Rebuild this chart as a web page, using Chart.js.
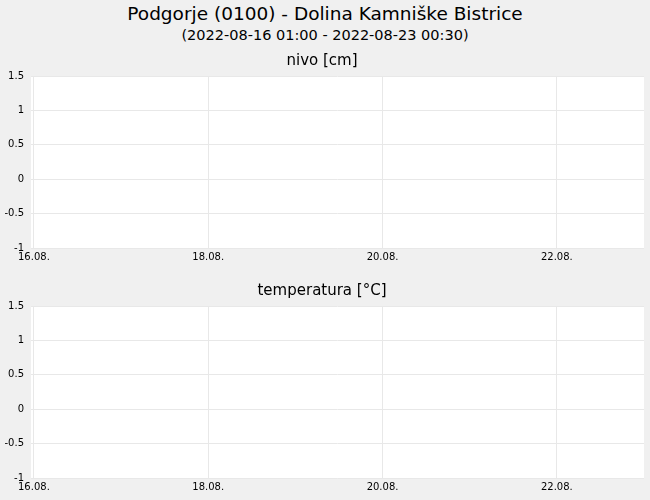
<!DOCTYPE html>
<html>
<head>
<meta charset="utf-8">
<script src="https://cdn.jsdelivr.net/npm/chart.js@4.4.1/dist/chart.umd.min.js"></script>
<style>
  html, body { margin:0; padding:0; background:#f0f0f0; width:650px; height:500px; overflow:hidden; font-family:"DejaVu Sans", sans-serif; }
  #title { position:absolute; left:0; top:3px; width:650px; text-align:center; font-size:18.5px; color:#000; line-height:22px; }
  #subtitle { position:absolute; left:0; top:26px; width:650px; text-align:center; font-size:14.5px; color:#000; line-height:18px; }
  .box { position:absolute; left:0; width:650px; height:230px; }
</style>
</head>
<body>
<div id="title">Podgorje (0100) - Dolina Kamniške Bistrice</div>
<div id="subtitle">(2022-08-16 01:00 - 2022-08-23 00:30)</div>
<div class="box" style="top:44px"><canvas id="c1"></canvas></div>
<div class="box" style="top:274px"><canvas id="c2"></canvas></div>
<script>
// hours since 2022-08-16 00:00
const xTickHours = [0, 48, 96, 144];
const xTickLabels = ['16.08.', '18.08.', '20.08.', '22.08.'];
const yTickValues = [1.5, 1, 0.5, 0, -0.5, -1];
const yTickLabels = ['1.5', '1', '0.5', '0', '-0.5', '-1'];
const nivoValues = [];         // no data in the period
const temperaturaValues = [];  // no data in the period
const panelTitles = ['nivo [cm]', 'temperatura [°C]'];

const FONT = '"DejaVu Sans", sans-serif';
const GRID = '#e8e8e8';

const whiteArea = {
  id: 'whiteArea',
  beforeDraw(chart) {
    const a = chart.chartArea, ctx = chart.ctx;
    ctx.save();
    ctx.fillStyle = '#ffffff';
    ctx.fillRect(a.left, a.top, a.right - a.left, a.bottom - a.top);
    ctx.restore();
  }
};

function makeChart(id, title, values) {
  return new Chart(document.getElementById(id), {
    type: 'line',
    data: { datasets: [{ data: values, borderColor: '#1f5fbf', pointRadius: 0, borderWidth: 1 }] },
    options: {
      responsive: true,
      maintainAspectRatio: false,
      animation: false,
      layout: { padding: { left: 0, right: 6, top: 0, bottom: 0 } },
      plugins: {
        legend: { display: false },
        tooltip: { enabled: false },
        title: {
          display: true, text: title, color: '#000',
          font: { family: FONT, size: 15, weight: 'normal', lineHeight: 1.2 },
          padding: { top: 8.5, bottom: 5.5 }
        }
      },
      scales: {
        x: {
          type: 'linear', min: -0.8, max: 168,
          afterBuildTicks(s) { s.ticks = xTickHours.map(v => ({ value: v })); },
          afterFit(s) { s.height = 26; },
          ticks: {
            color: '#000', font: { family: FONT, size: 10 }, padding: 3.5,
            maxRotation: 0, autoSkip: false,
            callback(v) { const i = xTickHours.indexOf(v); return i >= 0 ? xTickLabels[i] : ''; }
          },
          grid: { color: GRID, drawTicks: false, lineWidth: 1 },
          border: { display: false }
        },
        y: {
          min: -1, max: 1.5,
          afterBuildTicks(s) { s.ticks = yTickValues.map(v => ({ value: v })); },
          afterFit(s) { s.width = 31; },
          ticks: {
            color: '#000', font: { family: FONT, size: 10 }, padding: 7,
            callback(v) { const i = yTickValues.indexOf(v); return i >= 0 ? yTickLabels[i] : ''; }
          },
          grid: { color: GRID, drawTicks: false, lineWidth: 1 },
          border: { display: false }
        }
      }
    },
    plugins: [whiteArea]
  });
}

makeChart('c1', panelTitles[0], nivoValues);
makeChart('c2', panelTitles[1], temperaturaValues);
</script>
</body>
</html>
